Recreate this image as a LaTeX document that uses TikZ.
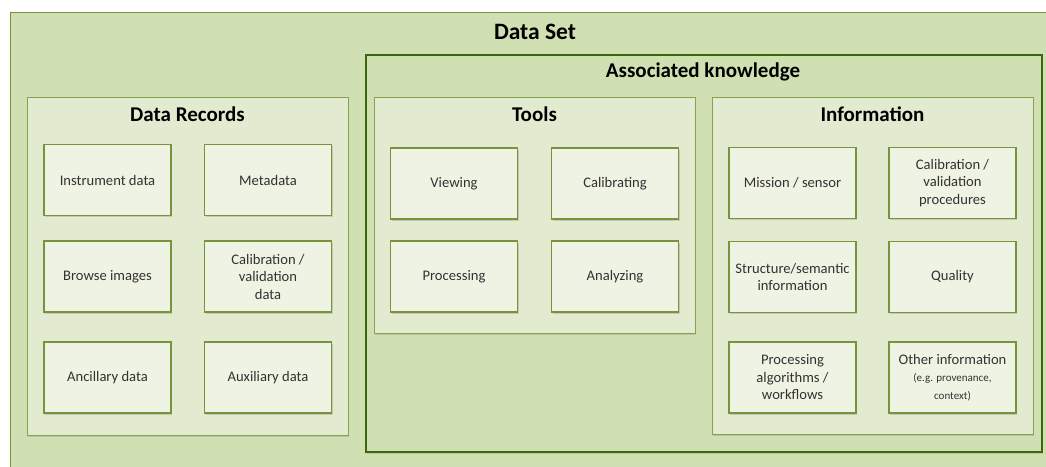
\documentclass[tikz,border=0pt]{standalone}
\usepackage{fontspec}
\setmainfont{Carlito}
\usetikzlibrary{positioning,shadows}

\definecolor{setfill}{RGB}{209,224,179}
\definecolor{setline}{RGB}{119,147,60}
\definecolor{panelfill}{RGB}{226,235,208}
\definecolor{panelline}{RGB}{134,164,78}
\definecolor{cellfill}{RGB}{239,243,228}
\definecolor{cellline}{RGB}{119,147,60}
\definecolor{assocline}{RGB}{58,104,12}
\definecolor{celltext}{RGB}{50,50,50}

\begin{document}
\begin{tikzpicture}[x=1pt, y=-1pt,
    panel/.style={rectangle, draw=panelline, line width=1pt, fill=panelfill, minimum width=321pt,
        drop shadow={shadow xshift=1pt, shadow yshift=-1.5pt, opacity=0.3}},
    cell/.style={rectangle, draw=cellline, line width=1.2pt, fill=cellfill, minimum width=127pt,
        minimum height=71pt, align=center, text=celltext, font=\fontsize{14.6}{17.5}\selectfont,
        drop shadow={shadow xshift=1pt, shadow yshift=-1.5pt, opacity=0.3}},
    heading/.style={font=\fontsize{21}{24}\selectfont\bfseries}
]
\clip (0,0) rectangle (1046,466);

% Data set
\draw[draw=setline, line width=1pt, fill=setfill] (10,12) rectangle (1060,480);
\node[heading, font=\fontsize{23.5}{26}\selectfont\bfseries] (settitle) at (535,32) {Data Set};

% Associated knowledge
\node[rectangle, draw=assocline, line width=2.2pt, minimum width=676pt, minimum height=397pt,
    drop shadow={shadow xshift=1pt, shadow yshift=-1.5pt, opacity=0.25}, fill=setfill] (assoc) at (704,253.5) {};
\node[heading] (assoctitle) at (703,72) {Associated knowledge};

% Panels
\node[panel, minimum height=338pt] (records) at (187.5,266) {};
\node[panel, minimum height=236pt] (tools) at (534.5,215) {};
\node[panel, minimum height=337pt] (info) at (872.5,265.5) {};

\node[heading] (recordstitle) at (187.5,114) {Data Records};
\node[heading] (toolstitle) at (534.5,114) {Tools};
\node[heading] (infotitle) at (872.5,114) {Information};

% Data records
\node[cell] (instrument) at (107.5,180) {Instrument data};
\node[cell] (metadata) at (268,180) {Metadata};
\node[cell] (browse) at (107.5,276.5) {Browse images};
\node[cell] (caldata) at (268,276.5) {Calibration /\\validation\\data};
\node[cell] (ancillary) at (107.5,377.5) {Ancillary data};
\node[cell] (auxiliary) at (268,377.5) {Auxiliary data};

% Tools
\node[cell] (viewing) at (454,183.5) {Viewing};
\node[cell] (calibrating) at (615,183.5) {Calibrating};
\node[cell] (processing) at (454,276.5) {Processing};
\node[cell] (analyzing) at (615,276.5) {Analyzing};

% Information
\node[cell] (mission) at (792.5,183) {Mission / sensor};
\node[cell] (calproc) at (952.5,183) {Calibration /\\validation\\procedures};
\node[cell] (structure) at (792.5,277) {Structure/semantic\\information};
\node[cell] (quality) at (952.5,277) {Quality};
\node[cell] (algorithms) at (792.5,377.5) {Processing\\algorithms /\\workflows};
\node[cell] (other) at (952.5,377.5) {Other information\\{\fontsize{11}{14}\selectfont (e.g. provenance,}\\{\fontsize{11}{14}\selectfont context)}};

\end{tikzpicture}
\end{document}
